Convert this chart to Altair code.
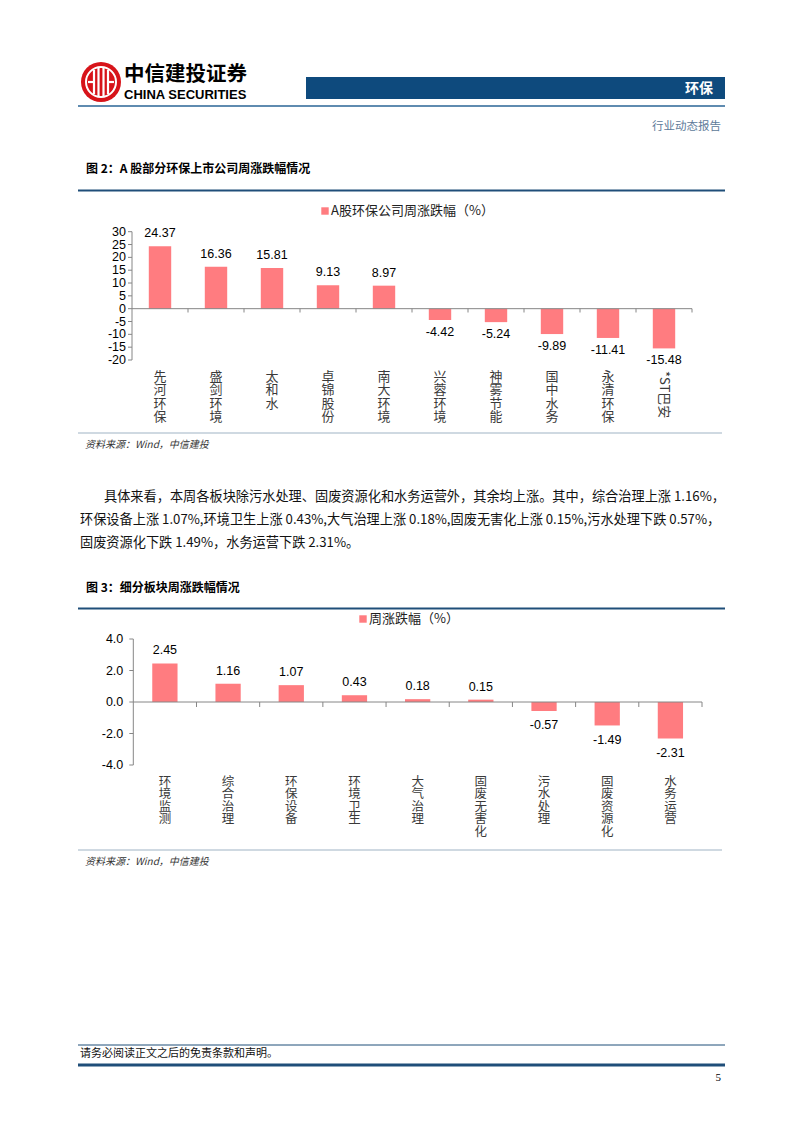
import altair as alt
import pandas as pd

# ---------------- data ----------------
cats1 = ["先河环保", "盛剑环境", "太和水", "卓锦股份", "南大环境",
         "兴蓉环境", "神雾节能", "国中水务", "永清环保", "*ST巴安"]
vals1 = [24.37, 16.36, 15.81, 9.13, 8.97, -4.42, -5.24, -9.89, -11.41, -15.48]
ticks1 = [-20, -15, -10, -5, 0, 5, 10, 15, 20, 25, 30]

cats2 = ["环境监测", "综合治理", "环保设备", "环境卫生", "大气治理",
         "固废无害化", "污水处理", "固废资源化", "水务运营"]
vals2 = [2.45, 1.16, 1.07, 0.43, 0.18, 0.15, -0.57, -1.49, -2.31]
ticks2 = [-4, -2, 0, 2, 4]

legend1 = "A股环保公司周涨跌幅（%）"
legend2 = "周涨跌幅（%）"
title1 = "图 2：A 股部分环保上市公司周涨跌幅情况"
title2 = "图 3：细分板块周涨跌幅情况"
source = "资料来源：Wind，中信建投"
para = [
    "具体来看，本周各板块除污水处理、固废资源化和水务运营外，其余均上涨。其中，综合治理上涨 1.16%，",
    "环保设备上涨 1.07%,环境卫生上涨 0.43%,大气治理上涨 0.18%,固废无害化上涨 0.15%,污水处理下跌 0.57%，",
    "固废资源化下跌 1.49%，水务运营下跌 2.31%。",
]

W, H = 786, 1100
SANS = "Noto Sans CJK SC"
NUM = "Liberation Sans"
BAR = "#FF7C80"
NAVY = "#0e4a7d"
LINE = "#1f4e79"
AXIS = "#868686"


def dummy():
    return alt.Chart(pd.DataFrame({"d": [0]}))


def txt(s, x, y, size=12, font=SANS, weight="normal", color="#000000",
        align="left", baseline="middle", style="normal"):
    return alt.Chart(pd.DataFrame({"t": [s]})).mark_text(
        align=align, baseline=baseline, fontSize=size, font=font,
        fontWeight=weight, color=color, fontStyle=style
    ).encode(x=alt.value(x), y=alt.value(y), text="t:N")


def hline(x1, x2, y, color, w):
    return dummy().mark_rule(color=color, strokeWidth=w).encode(
        x=alt.value(x1), x2=alt.value(x2), y=alt.value(y))


def vline(x, y1, y2, color, w):
    return dummy().mark_rule(color=color, strokeWidth=w).encode(
        x=alt.value(x), y=alt.value(y1), y2=alt.value(y2))


def bar_chart(cats, vals, domain, yrange, xrange, ticks, tick_fmt, axis_x, zero_y,
              cat_top, cat_size, cat_lh, tick_len, lab_pad, dy_pos, dy_neg,
              num_size, rotated=None):
    df = pd.DataFrame({
        "cat": cats,
        "v": vals,
        "lab": [str(v) for v in vals],
        "stack": ["\n".join(c) for c in cats],
    })
    tdf = pd.DataFrame({"t": ticks, "tl": [tick_fmt(t) for t in ticks]})
    xsc = alt.Scale(domain=cats, range=xrange, paddingInner=0, paddingOuter=0)
    ysc = alt.Scale(domain=domain, range=yrange, nice=False, zero=False)
    base = alt.Chart(df)
    xn = alt.X("cat:N", scale=xsc, axis=None, sort=cats)
    yn = alt.Y("v:Q", scale=ysc, axis=None)

    bars = base.mark_bar(color=BAR, width=alt.RelativeBandSize(0.4)).encode(
        x=xn, y=yn, y2=alt.datum(0))
    # axes drawn from the scales
    ydom = dummy().mark_rule(color=AXIS, strokeWidth=1).encode(
        x=alt.value(axis_x), y=alt.Y(datum=domain[0], scale=ysc, axis=None),
        y2=alt.datum(domain[1]))
    ytk = alt.Chart(tdf).mark_rule(color=AXIS, strokeWidth=1).encode(
        y=alt.Y("t:Q", scale=ysc, axis=None),
        x=alt.value(axis_x - 4), x2=alt.value(axis_x))
    ylab = alt.Chart(tdf).mark_text(
        align="right", baseline="middle", font=NUM, fontSize=num_size, color="#000000"
    ).encode(y=alt.Y("t:Q", scale=ysc, axis=None),
             x=alt.value(axis_x - 4 - lab_pad), text="tl:N")
    zero = dummy().mark_rule(color=AXIS, strokeWidth=1).encode(
        y=alt.Y(datum=0, scale=ysc, axis=None),
        x=alt.value(xrange[0]), x2=alt.value(xrange[1]))
    xtk = base.mark_rule(color=AXIS, strokeWidth=1).encode(
        x=alt.X("cat:N", scale=xsc, axis=None, sort=cats, bandPosition=1),
        y=alt.Y(datum=0, scale=ysc, axis=None), y2=alt.value(zero_y + tick_len))

    pos = base.transform_filter("datum.v >= 0").mark_text(
        dy=dy_pos, baseline="middle", font=NUM, fontSize=num_size, color="#000000"
    ).encode(x=xn, y=yn, text="lab:N")
    neg = base.transform_filter("datum.v < 0").mark_text(
        dy=dy_neg, baseline="middle", font=NUM, fontSize=num_size, color="#000000"
    ).encode(x=xn, y=yn, text="lab:N")
    flt = "true" if rotated is None else f"datum.cat != '{rotated}'"
    catl = base.transform_filter(flt).mark_text(
        baseline="top", align="center", lineBreak="\n", lineHeight=cat_lh,
        font=SANS, fontSize=cat_size, color="#3a3a3a"
    ).encode(x=xn, y=alt.value(cat_top), text="stack:N")
    layers = [bars, zero, xtk, ydom, ytk, ylab, pos, neg, catl]
    if rotated is not None:
        rot = base.transform_filter(f"datum.cat == '{rotated}'").mark_text(
            angle=90, align="left", baseline="middle",
            font=SANS, fontSize=cat_size, color="#3a3a3a"
        ).encode(x=xn, y=alt.value(cat_top), text="cat:N")
        layers.append(rot)
    return alt.layer(*layers)


# ---------------- header ----------------
logo = [
    dummy().mark_point(shape="circle", filled=True, size=1600, color="#d7141a",
                       opacity=1).encode(x=alt.value(93), y=alt.value(74)),
    dummy().mark_point(shape="circle", filled=False, size=900, color="#ffffff",
                       strokeWidth=2, opacity=1).encode(x=alt.value(93), y=alt.value(74)),
    vline(86, 62, 86, "#ffffff", 2.2),
    vline(90.5, 60, 88, "#ffffff", 2.2),
    vline(95.5, 60, 88, "#ffffff", 2.2),
    vline(100, 62, 86, "#ffffff", 2.2),
    hline(80, 86, 74, "#ffffff", 2.2),
    hline(100, 106, 74, "#ffffff", 2.2),
]

header = logo + [
    txt("中信建投证券", 116, 67, size=20.5, weight="bold"),
    txt("CHINA SECURITIES", 116, 87, size=13, font=NUM, weight="bold"),
    dummy().mark_rect(color=NAVY).encode(
        x=alt.value(298), x2=alt.value(717), y=alt.value(69), y2=alt.value(91)),
    txt("环保", 705, 80.5, size=14, weight="bold", color="#ffffff", align="right"),
    hline(70, 717, 98, "#2a6496", 1.5),
    txt("行业动态报告", 713, 119, size=11.5, color="#5d7a99", align="right"),
]

# ---------------- figure 2 ----------------
fig2_deco = [
    txt(title1, 78, 161, size=12, weight="bold"),
    hline(70, 717, 182.5, LINE, 2),
    dummy().mark_point(shape="square", filled=True, size=55, color=BAR,
                       opacity=1).encode(x=alt.value(317), y=alt.value(203)),
    txt(legend1, 323, 203, size=13, color="#222222"),
    hline(70, 714, 425, "#9fb3c4", 1),
    txt(source, 77, 437, size=10, color="#333333", style="italic"),
]

chart1 = bar_chart(cats1, vals1, [-20, 30], [352, 223.7], [124, 684], ticks1,
                   lambda t: str(t),
                   axis_x=124, zero_y=300.5, cat_top=363, cat_size=13, cat_lh=13.4,
                   tick_len=4, lab_pad=2, dy_pos=-13, dy_neg=12, num_size=12.5,
                   rotated="*ST巴安")

# ---------------- paragraph ----------------
paragraph = [
    txt(para[0], 96, 489, size=13.2, color="#111111"),
    txt(para[1], 72, 512, size=13.2, color="#111111"),
    txt(para[2], 72, 535, size=13.2, color="#111111"),
]

# ---------------- figure 3 ----------------
fig3_deco = [
    txt(title2, 78, 580, size=12, weight="bold"),
    hline(70, 717, 600.5, LINE, 2),
    dummy().mark_point(shape="square", filled=True, size=55, color=BAR,
                       opacity=1).encode(x=alt.value(355), y=alt.value(611)),
    txt(legend2, 361, 611, size=13, color="#222222"),
    hline(70, 714, 842, "#9fb3c4", 1),
    txt(source, 77, 854, size=10, color="#333333", style="italic"),
]

chart2 = bar_chart(cats2, vals2, [-4, 4], [757, 631], [125.3, 694], ticks2,
                   lambda t: f"{t:.1f}",
                   axis_x=125.3, zero_y=694, cat_top=768, cat_size=12.5, cat_lh=12.4,
                   tick_len=5, lab_pad=6, dy_pos=-13, dy_neg=14.5, num_size=12.5)

# ---------------- footer ----------------
footer = [
    hline(70, 717, 1037, LINE, 1),
    txt("请务必阅读正文之后的免责条款和声明。", 72, 1046, size=11, color="#111111"),
    hline(70, 717, 1057, LINE, 3),
    txt("5", 713, 1070, size=11, font="Liberation Serif", align="right"),
]

chart = alt.layer(
    *header, *fig2_deco, chart1, *paragraph, *fig3_deco, chart2, *footer
).resolve_scale(
    x="independent", y="independent"
).properties(
    width=W, height=H, padding=0, autosize=alt.AutoSizeParams(type="none"),
    background="#ffffff"
).configure_view(stroke=None)

chart.save("out.html", embed_options={"renderer": "svg", "actions": False})
